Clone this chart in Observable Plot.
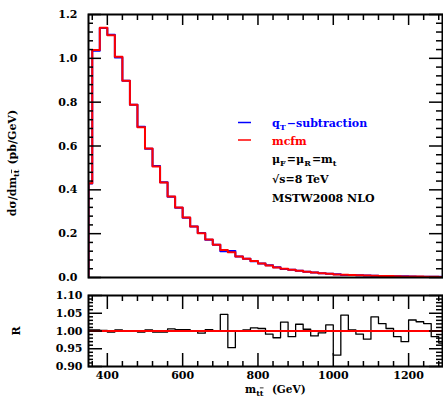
<!DOCTYPE html>
<html><head><meta charset="utf-8">
<script src="https://cdn.jsdelivr.net/npm/d3@7"></script>
<script src="https://cdn.jsdelivr.net/npm/@observablehq/plot@0.6"></script>
<style>
body{margin:0;background:#fff;}
#chart{position:relative;width:443px;height:400px;overflow:hidden;background:#fff;}
#chart svg{display:block;}
</style></head><body><div id="chart"></div>
<script>
// bin lower edges (GeV)
const binLo = [350,360,380,400,420,440,460,480,500,520,540,560,580,600,620,640,660,680,700,720,740,760,780,800,820,840,860,880,900,920,940,960,980,1000,1020,1040,1060,1080,1100,1120,1140,1160,1180,1200,1220,1240,1260,1280];
const binEnd = 1300;
// dsigma/dm (pb/GeV)
const mcfm = [0.430,1.038,1.140,1.105,1.007,0.898,0.788,0.686,0.589,0.507,0.434,0.370,0.319,0.274,0.233,0.202,0.173,0.149,0.126,0.115,0.096,0.085,0.075,0.064,0.055,0.046,0.040,0.035,0.031,0.026,0.023,0.019,0.017,0.014,0.012,0.011,0.010,0.009,0.008,0.007,0.0065,0.006,0.005,0.0045,0.004,0.0035,0.003,0.0028];
const qtSub = [0.429,1.035,1.138,1.108,1.004,0.898,0.788,0.688,0.587,0.509,0.435,0.368,0.318,0.273,0.233,0.203,0.172,0.149,0.120,0.121,0.096,0.085,0.0743,0.0636,0.0555,0.0469,0.0390,0.0356,0.0304,0.0259,0.0233,0.0191,0.0167,0.0150,0.0115,0.0110,0.0101,0.0092,0.0077,0.0069,0.0065,0.0061,0.0052,0.0044,0.0039,0.0034,0.0030,0.0029];
// ratio R
const ratio = [1.003,1.003,1.002,0.997,1.003,1.000,1.000,0.997,1.003,0.997,0.997,1.006,1.004,1.004,1.001,0.994,1.004,1.000,1.047,0.953,1.000,1.003,1.009,1.007,0.991,0.981,1.025,0.984,1.019,1.005,0.986,0.995,1.017,0.932,1.045,1.003,0.991,0.977,1.040,1.021,1.007,0.984,0.970,1.031,1.026,1.021,0.984,0.966];

const xDomain = [350, 1290];
const xMajor = [400, 600, 800, 1000, 1200];
const xMinor = [360,440,480,520,560,640,680,720,760,840,880,920,960,1040,1080,1120,1160,1240,1280];
const yMajor = [0, 0.2, 0.4, 0.6, 0.8, 1.0, 1.2];
const yMinor = d3.range(0, 1.2001, 0.04).filter(v => Math.abs(v / 0.2 - Math.round(v / 0.2)) > 1e-6);
const rMajor = [0.90, 0.95, 1.00, 1.05, 1.10];
const rMinor = d3.range(0.90, 1.1001, 0.01).filter(v => Math.abs(v / 0.05 - Math.round(v / 0.05)) > 1e-6);

const histMain = [{x: binLo[0], m: 0, q: 0}]
  .concat(binLo.map((x, i) => ({x, m: mcfm[i], q: qtSub[i]})))
  .concat([{x: binEnd, m: mcfm[mcfm.length - 1], q: qtSub[qtSub.length - 1]}]);
const histRatio = binLo.map((x, i) => ({x, r: ratio[i]}))
  .concat([{x: binEnd, r: ratio[ratio.length - 1]}]);

const FONT = "'DejaVu Serif', serif";
const style = {fontFamily: FONT, fontSize: "11px", fontWeight: "bold", color: "#000", background: "transparent"};
const TW = 1.5;
// tick-only axis (no labels)
const ticksOnly = {fill: "none", stroke: "#000", label: null, strokeWidth: TW};

const main = Plot.plot({
  width: 443, height: 283,
  marginLeft: 88, marginRight: 1, marginTop: 14, marginBottom: 6,
  x: {domain: xDomain},
  y: {domain: [0, 1.2]},
  style,
  marks: [
    Plot.line(histMain, {x: "x", y: "q", curve: "step-after", stroke: "#0000ff", strokeWidth: 2, clip: true}),
    Plot.line(histMain, {x: "x", y: "m", curve: "step-after", stroke: "#ff0000", strokeWidth: 2, clip: true}),
    Plot.frame({stroke: "#000", strokeWidth: 2}),
    Plot.axisY(yMajor, {anchor: "left", tickSize: -13, tickPadding: 24, tickFormat: d3.format(".1f"), label: null, strokeWidth: TW}),
    Plot.axisY(yMinor, {anchor: "left", tickSize: -5, ...ticksOnly}),
    Plot.axisY(yMajor, {anchor: "right", tickSize: -14, ...ticksOnly}),
    Plot.axisY(yMinor, {anchor: "right", tickSize: -7, ...ticksOnly}),
    Plot.axisX(xMajor, {anchor: "top", tickSize: -10, ...ticksOnly}),
    Plot.axisX(xMinor, {anchor: "top", tickSize: -5, ...ticksOnly})
  ]
});

const ratioPlot = Plot.plot({
  width: 443, height: 117,
  marginLeft: 88, marginRight: 1, marginTop: 12, marginBottom: 34,
  x: {domain: xDomain},
  y: {domain: [0.9, 1.1]},
  style,
  marks: [
    Plot.line(histRatio, {x: "x", y: "r", curve: "step-after", stroke: "#000", strokeWidth: 1.3, clip: true}),
    Plot.ruleY([1], {stroke: "#ff0000", strokeWidth: 2}),
    Plot.frame({stroke: "#000", strokeWidth: 2}),
    Plot.axisY(rMajor, {anchor: "left", tickSize: -14, tickPadding: 20, tickFormat: d3.format(".2f"), label: null, strokeWidth: TW}),
    Plot.axisY(rMinor, {anchor: "left", tickSize: -5, ...ticksOnly}),
    Plot.axisY(rMajor, {anchor: "right", tickSize: -14, ...ticksOnly}),
    Plot.axisY(rMinor, {anchor: "right", tickSize: -7, ...ticksOnly}),
    Plot.axisX(xMajor, {anchor: "top", tickSize: -13, ...ticksOnly}),
    Plot.axisX(xMinor, {anchor: "top", tickSize: -5, ...ticksOnly}),
    Plot.axisX(xMajor, {anchor: "bottom", tickSize: -13, tickPadding: 18, tickFormat: d => String(d), label: null, strokeWidth: TW}),
    Plot.axisX(xMinor, {anchor: "bottom", tickSize: -5, ...ticksOnly})
  ]
});

const root = document.getElementById("chart");
main.style.position = "absolute"; main.style.left = "0px"; main.style.top = "0px";
ratioPlot.style.position = "absolute"; ratioPlot.style.left = "0px"; ratioPlot.style.top = "283px";
root.appendChild(main);
root.appendChild(ratioPlot);

// annotations: parts are strings, or {sub: [pieces]} where a piece is a string or {t, over}
function addText(svg, x, y, parts, opts = {}) {
  const t = d3.select(svg).append("text")
    .attr("x", x).attr("y", y)
    .attr("font-family", FONT).attr("font-weight", "bold")
    .attr("font-size", opts.size || 11)
    .attr("fill", opts.fill || "#000")
    .attr("text-anchor", opts.anchor || "start");
  if (opts.rotate) t.attr("transform", `rotate(${opts.rotate} ${x} ${y})`);
  for (const p of parts) {
    if (typeof p === "string") { t.append("tspan").text(p); continue; }
    const dy = p.dy || 3;
    const pieces = Array.isArray(p.sub) ? p.sub : [p.sub];
    pieces.forEach((q, i) => {
      const s = t.append("tspan").attr("font-size", 8);
      if (i === 0) s.attr("dy", dy);
      if (typeof q === "string") s.text(q);
      else { s.text(q.t); if (q.over) s.style("text-decoration", "overline"); }
    });
    t.append("tspan").attr("dy", -dy).text("\u200a");
  }
  return t;
}
const ms = d3.select(main);
ms.append("line").attr("x1", 238).attr("x2", 251).attr("y1", 122.5).attr("y2", 122.5).attr("stroke", "#0000ff").attr("stroke-width", 1.5);
ms.append("line").attr("x1", 238).attr("x2", 251).attr("y1", 140).attr("y2", 140).attr("stroke", "#ff0000").attr("stroke-width", 1.5);
addText(main, 272, 127, ["q", {sub: "T"}, "\u2212subtraction"], {fill: "#0000ff"});
addText(main, 272, 144.5, ["mcfm"], {fill: "#ff0000"});
addText(main, 272, 163, ["\u03bc", {sub: "F"}, "=\u03bc", {sub: "R"}, "=m", {sub: "t"}]);
addText(main, 272, 183, ["\u221as=8 TeV"]);
addText(main, 272, 202, ["MSTW2008 NLO"]);
addText(main, 16, 163, ["d\u03c3/dm", {sub: ["t", {t: "t", over: true}]}, " (pb/GeV)"], {rotate: -90, anchor: "middle"});
addText(ratioPlot, 20, 48, ["R"], {rotate: -90, anchor: "middle"});
addText(ratioPlot, 245, 109.5, ["m", {sub: ["t", {t: "t", over: true}]}, "  (GeV)"], {size: 10.5});
</script>
</body></html>
